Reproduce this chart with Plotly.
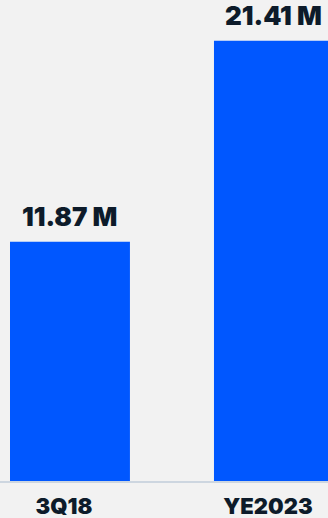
import plotly.graph_objects as go

categories = ["3Q18", "YE2023"]
values = [11.87, 21.41]
value_labels = ["11.87 M", "21.41 M"]

BAR = "#0057FF"
TEXT = "#0d1b2a"
BG = "#f2f2f2"
FONT = "Inter"

fig = go.Figure(
    go.Bar(
        x=categories,
        y=values,
        marker=dict(color=BAR, line=dict(width=0)),
        width=0.588,
        hoverinfo="skip",
    )
)

for c, v, t in zip(categories, values, value_labels):
    fig.add_annotation(
        x=c, y=v, text=t, showarrow=False, yanchor="bottom", yshift=8,
        font=dict(family=FONT, size=26, color=TEXT, weight=900),
    )

fig.update_layout(
    width=328, height=518,
    margin=dict(l=0, r=0, t=0, b=37, autoexpand=False),
    paper_bgcolor=BG, plot_bgcolor=BG,
    showlegend=False,
    xaxis=dict(
        type="category",
        range=[-0.343, 1.265],
        automargin=False,
        showline=True, linecolor="#cdd6e0", linewidth=2,
        showgrid=False, zeroline=False,
        ticks="", ticklabelstandoff=5, ticklabelshift=-6,
        tickfont=dict(family=FONT, size=22, color=TEXT, weight=900),
    ),
    yaxis=dict(
        range=[0.51, 23.34],
        automargin=False,
        visible=False, showgrid=False, zeroline=False,
    ),
)

fig.write_html("out.html")
